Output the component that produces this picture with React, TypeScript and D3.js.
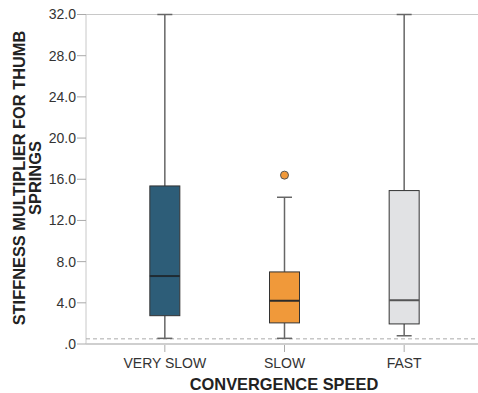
import React from "react";
import * as d3 from "d3";

const categories = ["VERY SLOW", "SLOW", "FAST"];
const whiskerLow = [0.55, 0.55, 0.8];
const q1 = [2.75, 2.05, 1.95];
const medians = [6.6, 4.2, 4.25];
const q3 = [15.35, 7.0, 14.9];
const whiskerHigh = [32, 14.25, 32];
const outlierCats = ["SLOW"];
const outlierValues = [16.4];
const yTicks = [0, 4, 8, 12, 16, 20, 24, 28, 32];
const refValue = 0.5;

const fills = ["#2d5d78", "#f0993a", "#e1e2e4"];
const medianColors = ["#1f2b33", "#2b2b2b", "#555"];

const W = 478;
const H = 393;
const left = 86;
const right = 478;
const top = 14.5;
const bottom = 344;

const App = () => {
	const y = d3.scaleLinear().domain([0, 32]).range([bottom, top]);
	const x = d3.scaleBand().domain(categories).range([105, 464]).padding(0);
	const cx = (c: string) => (x(c) as number) + x.bandwidth() / 2;
	const boxW = 30;
	const capW = 15;
	const fmt = (d: number) => (d === 0 ? ".0" : d.toFixed(1));
	const font = "'Liberation Sans', Arial, sans-serif";

	return (
		<div style={{ position: "absolute", left: 0, top: 0 }}>
			<svg width={W} height={H} style={{ display: "block", background: "#fff" }}>
				{/* frame lines */}
				<line x1={left} x2={right} y1={top} y2={top} stroke="#c8c8c8" strokeWidth={1} />
				<line x1={left} x2={right} y1={bottom} y2={bottom} stroke="#cfcfcf" strokeWidth={2} />
				<line x1={left} x2={left} y1={top} y2={bottom} stroke="#c8c8c8" strokeWidth={1} />
				<line x1={left} x2={right} y1={y(refValue)} y2={y(refValue)} stroke="#aaa" strokeDasharray="4,3" strokeWidth={1} />

				{/* y axis */}
				{yTicks.map((t) => (
					<g key={t}>
						<line x1={left - 9} x2={left} y1={y(t)} y2={y(t)} stroke="#aaa" />
						<text x={left - 10} y={y(t)} dy="0.35em" textAnchor="end" fontFamily={font} fontSize={14} fill="#333">
							{fmt(t)}
						</text>
					</g>
				))}

				{/* x axis */}
				{categories.map((c) => (
					<g key={c}>
						<line x1={cx(c)} x2={cx(c)} y1={bottom + 1} y2={bottom + 8} stroke="#aaa" />
						<text x={cx(c)} y={368} textAnchor="middle" fontFamily={font} fontSize={14} fill="#333">
							{c}
						</text>
					</g>
				))}

				{/* boxes */}
				{categories.map((c, i) => (
					<g key={c}>
						<line x1={cx(c)} x2={cx(c)} y1={y(whiskerLow[i])} y2={y(q1[i])} stroke="#666" strokeWidth={1.5} />
						<line x1={cx(c)} x2={cx(c)} y1={y(q3[i])} y2={y(whiskerHigh[i])} stroke="#666" strokeWidth={1.5} />
						<line x1={cx(c) - capW / 2} x2={cx(c) + capW / 2} y1={y(whiskerLow[i])} y2={y(whiskerLow[i])} stroke="#666" strokeWidth={1.5} />
						<line x1={cx(c) - capW / 2} x2={cx(c) + capW / 2} y1={y(whiskerHigh[i])} y2={y(whiskerHigh[i])} stroke="#666" strokeWidth={1.5} />
						<rect x={cx(c) - boxW / 2} y={y(q3[i])} width={boxW} height={y(q1[i]) - y(q3[i])} fill={fills[i]} stroke="#333" strokeWidth={1} />
						<line x1={cx(c) - boxW / 2} x2={cx(c) + boxW / 2} y1={y(medians[i])} y2={y(medians[i])} stroke={medianColors[i]} strokeWidth={2} />
					</g>
				))}

				{/* outliers */}
				{outlierCats.map((c, i) => (
					<circle key={i} cx={cx(c)} cy={y(outlierValues[i])} r={4} fill="#f0993a" stroke="#555" strokeWidth={1} />
				))}

				{/* titles */}
				<text x={284} y={390} textAnchor="middle" fontFamily={font} fontWeight="bold" fontSize={16.4} fill="#222">
					CONVERGENCE SPEED
				</text>
				<g transform="translate(25, 178) rotate(-90)">
					<text x={0} y={0} textAnchor="middle" fontFamily={font} fontWeight="bold" fontSize={16.4} fill="#222">
						STIFFNESS MULTIPLIER FOR THUMB
					</text>
					<text x={0} y={15.5} textAnchor="middle" fontFamily={font} fontWeight="bold" fontSize={16.4} fill="#222">
						SPRINGS
					</text>
				</g>
			</svg>
		</div>
	);
};

export default App;
